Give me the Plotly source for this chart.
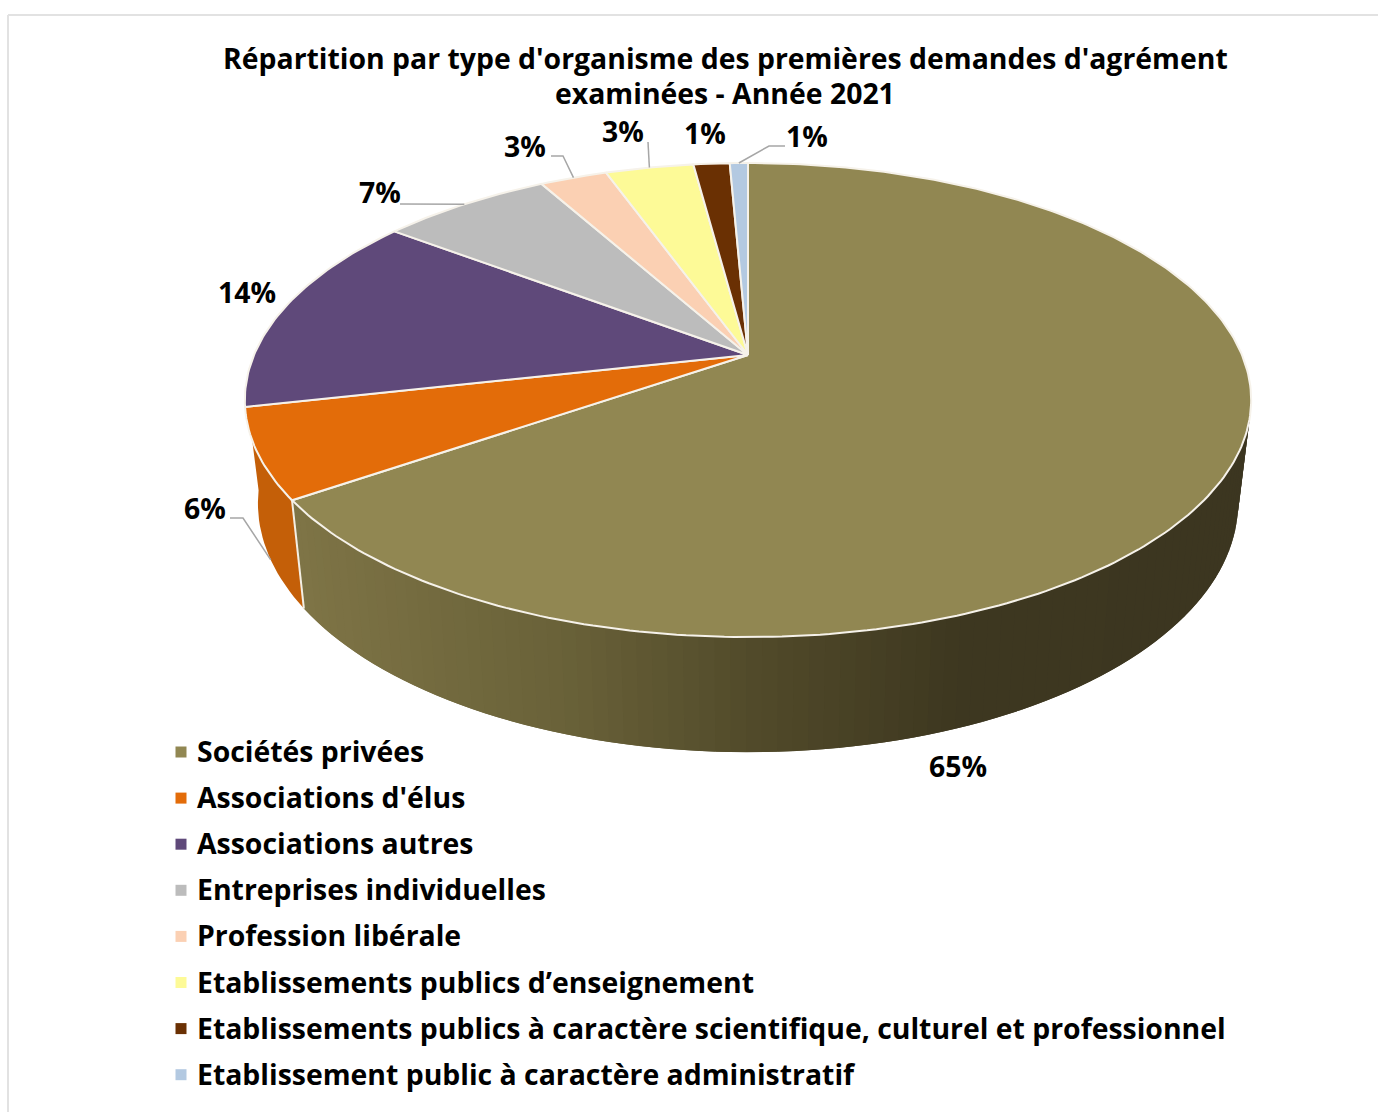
import math
import plotly.graph_objects as go

# shares read from the slice boundaries, the labels round them
categories = ["Sociétés privées", "Associations d'élus", "Associations autres",
              "Entreprises individuelles", "Profession libérale",
              "Etablissements publics d’enseignement",
              "Etablissements publics à caractère scientifique, culturel et professionnel",
              "Etablissement public à caractère administratif"]
shares = [65.4, 6.1, 13.8, 6.6, 2.6, 3.4, 1.4, 0.7]
colors = ["#918752", "#e36c09", "#5f497a", "#bcbcbc", "#fbd0b3", "#fdfa97", "#6a3003", "#b3c9e1"]
title_lines = ["Répartition par type d'organisme des premières demandes d'agrément",
               "examinées - Année 2021"]

# pixel layout of the drawing
label_pos = [(958, 766), (205, 508), (247, 292), (380, 192), (525, 146), (623, 131), (705, 133), (807, 136)]
leader_pts = {1: [(230, 518), (243, 518)], 3: [(400, 204)], 4: [(551, 156), (563, 156)],
              5: [(648, 142)], 7: [(785, 146), (769, 146)]}
wall_stops = [(302, "#7e7446"), (560, "#6a6239"), (760, "#514a2a"), (960, "#3e3820"), (1260, "#3c3620")]
orange_wall = "#c45f08"

CX, CY = 748, 355
RX, RY, K = 494, 228.5, 0.19
BOT_SX, BOT_SY, BOT_Y = 0.974, 1.05, 456
FONT = "Open Sans"
TEXT = dict(family=FONT, size=28.4, color="black", weight=700)


def top_pt(t):
    u, v = math.sin(t), math.cos(t)
    d = 1 + K * v
    return CX + RX * u / d, CY - RY * v / d


def bot_pt(t):
    u, v = math.sin(t), math.cos(t)
    d = 1 + K * v
    return CX + BOT_SX * RX * u / d, BOT_Y - BOT_SY * RY * v / d


def wall_color(x):
    if x <= wall_stops[0][0]:
        return wall_stops[0][1]
    for (x0, c0), (x1, c1) in zip(wall_stops, wall_stops[1:]):
        if x <= x1:
            f = (x - x0) / (x1 - x0)
            a = [int(c0[i:i + 2], 16) for i in (1, 3, 5)]
            b = [int(c1[i:i + 2], 16) for i in (1, 3, 5)]
            return "rgb(%d,%d,%d)" % tuple(p + (q - p) * f for p, q in zip(a, b))
    return wall_stops[-1][1]


def steps(a, b, n):
    return [a + (b - a) * i / n for i in range(n + 1)]


total = sum(shares)
edges = [0]
for s in shares:
    edges.append(edges[-1] + s / total * 2 * math.pi)

fig = go.Figure()

# side wall, first the orange slice then the big one in thin bands
ts = steps(edges[1], math.radians(262), 20)
xs = [top_pt(t)[0] for t in ts] + [bot_pt(t)[0] for t in reversed(ts)]
ys = [top_pt(t)[1] for t in ts] + [bot_pt(t)[1] for t in reversed(ts)]
fig.add_trace(go.Scatter(x=xs, y=ys, mode="lines", fill="toself", fillcolor=orange_wall,
                         line=dict(width=0), showlegend=False, hoverinfo="skip"))

# each band runs under the next one so no seam shows
ts = steps(math.radians(101), edges[1], 90)
for n, t0 in enumerate(ts[:-1]):
    t1 = ts[min(n + 2, len(ts) - 1)]
    p = [top_pt(t0), top_pt(t1), bot_pt(t1), bot_pt(t0)]
    c = wall_color((p[0][0] + top_pt(ts[n + 1])[0]) / 2)
    fig.add_trace(go.Scatter(x=[q[0] for q in p], y=[q[1] for q in p], mode="lines", fill="toself",
                             fillcolor=c, line=dict(width=0), showlegend=False, hoverinfo="skip"))

# white edge between the two walls
p0, p1 = top_pt(edges[1]), bot_pt(edges[1])
fig.add_trace(go.Scatter(x=[p0[0], p1[0]], y=[p0[1], p1[1]], mode="lines",
                         line=dict(color="#f4efe4", width=2), showlegend=False, hoverinfo="skip"))

# top face
for i, c in enumerate(colors):
    ts = steps(edges[i], edges[i + 1], max(4, int(shares[i] * 4)))
    pts = [(CX, CY)] + [top_pt(t) for t in ts] + [(CX, CY)]
    fig.add_trace(go.Scatter(x=[q[0] for q in pts], y=[q[1] for q in pts], mode="lines", fill="toself",
                             fillcolor=c, line=dict(color="#f6f2ea", width=2),
                             showlegend=False, hoverinfo="skip"))

# leader lines end on the rim at the middle of their slice
for i, pts in leader_pts.items():
    mid = (edges[i] + edges[i + 1]) / 2
    end = bot_pt(mid) if i == 1 else top_pt(mid)
    line = pts + [end]
    fig.add_trace(go.Scatter(x=[q[0] for q in line], y=[q[1] for q in line], mode="lines",
                             line=dict(color="#a6a6a6", width=1.5), showlegend=False, hoverinfo="skip"))

# legend column
LEG_Y0, LEG_STEP = 751, 46.1
fig.add_trace(go.Scatter(x=[181] * len(categories), y=[LEG_Y0 + 1 + LEG_STEP * i for i in range(len(categories))],
                         mode="markers", marker=dict(symbol="square", size=11, color=colors),
                         showlegend=False, hoverinfo="skip"))
for i, cat in enumerate(categories):
    fig.add_annotation(x=195, y=LEG_Y0 + LEG_STEP * i, text=cat, xanchor="left", showarrow=False, font=TEXT)

for s, (x, y) in zip(shares, label_pos):
    fig.add_annotation(x=x, y=y, text=f"{round(s)}%", showarrow=False, font=TEXT)

for line, y in zip(title_lines, (58, 93)):
    fig.add_annotation(x=725, y=y, text=line, showarrow=False, font=TEXT)

fig.add_shape(type="line", x0=8, y0=1112, x1=8, y1=15, line=dict(color="#e2e2e2", width=2))
fig.add_shape(type="line", x0=8, y0=15, x1=1378, y1=15, line=dict(color="#e2e2e2", width=2))

fig.update_layout(
    width=1378, height=1112, margin=dict(l=0, r=0, t=0, b=0, autoexpand=False),
    paper_bgcolor="white", plot_bgcolor="white", showlegend=False,
    xaxis=dict(range=[0, 1378], visible=False, fixedrange=True),
    yaxis=dict(range=[1112, 0], visible=False, fixedrange=True),
)

fig.write_html("out.html", config=dict(displayModeBar=False),
               post_script="document.body.style.margin='0';")
